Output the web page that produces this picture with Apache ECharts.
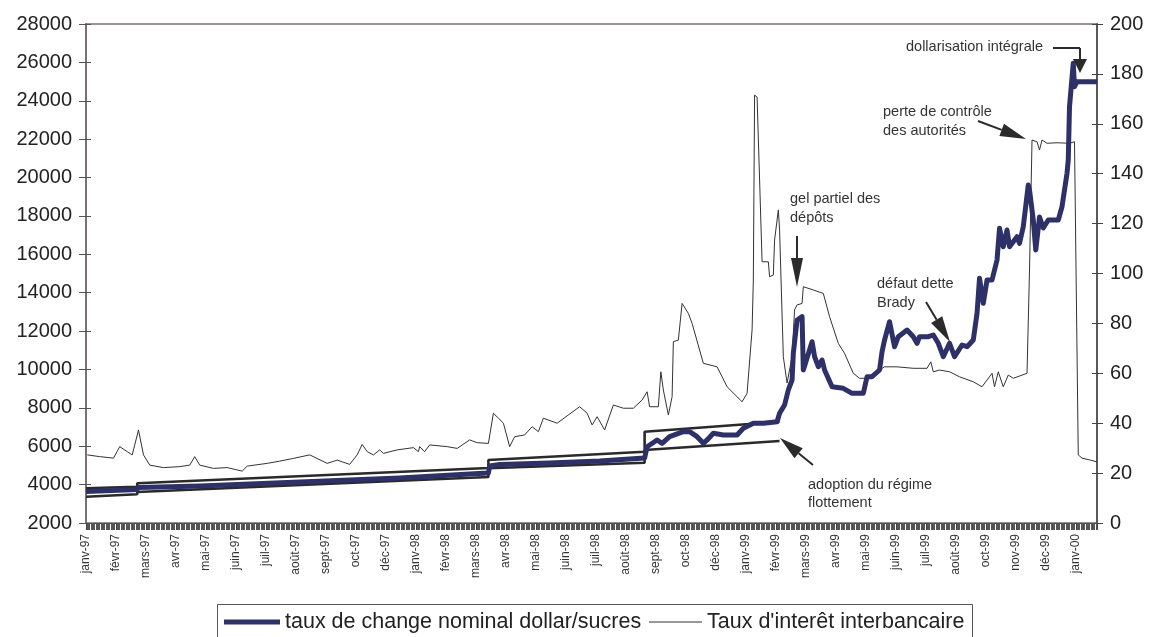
<!DOCTYPE html>
<html>
<head>
<meta charset="utf-8">
<script src="https://cdn.jsdelivr.net/npm/echarts@6/dist/echarts.min.js"></script>
<style>
html,body{margin:0;padding:0;background:#fff;}
#c{width:1150px;height:637px;}
</style>
</head>
<body>
<div id="c"></div>
<script>
// x values are business-day indices (0 = early janv-97); a tick label every 24 days
const tickLabels = ['janv-97','févr-97','mars-97','avr-97','mai-97','juin-97','juil-97','août-97','sept-97','oct-97','déc-97','janv-98','févr-98','mars-98','avr-98','mai-98','juin-98','juil-98','août-98','sept-98','oct-98','déc-98','janv-99','févr-99','mars-99','avr-99','mai-99','juin-99','juil-99','août-99','oct-99','nov-99','déc-99','janv-00'];

// taux de change nominal dollar/sucres (left axis)
const exchangeRate = [[0,3640],[41,3745],[42,3850],[91,3928],[171,4136],[251,4345],[307,4553],[322,4605],[323,4970],[331,5048],[371,5126],[411,5230],[447,5387],[449,5975],[457,6325],[461,6153],[467,6497],[478,6757],[483,6757],[489,6497],[494,6153],[497,6325],[502,6674],[510,6585],[521,6585],[526,6934],[534,7195],[542,7195],[553,7278],[555,7716],[559,8148],[562,8930],[565,9451],[566,10842],[569,12577],[573,12749],[574,9972],[575,9972],[581,11447],[583,10665],[586,10144],[589,10493],[591,9972],[597,9102],[606,9018],[613,8758],[622,8758],[625,9623],[629,9623],[635,9972],[637,10925],[639,11535],[643,12488],[647,11186],[650,11707],[657,12056],[662,11707],[665,11363],[667,11707],[674,11707],[678,11796],[682,11363],[686,10665],[691,11363],[695,10665],[701,11275],[705,11186],[710,11535],[713,12926],[715,14750],[718,13447],[721,14661],[725,14661],[729,15703],[731,17355],[734,16396],[737,17266],[739,16396],[745,16917],[747,16573],[750,17438],[754,19611],[755,19350],[758,17788],[760,16224],[763,17944],[766,17370],[770,17788],[778,17788],[781,18480],[785,20220],[786,20914],[787,23691],[790,25952],[791,24733],[793,24993],[809,24993]];

// Taux d'interêt interbancaire (right axis)
const interestRate = [[1,27.3],[11,26.6],[22,26.0],[27,30.6],[33,28.6],[37,27.3],[42,37.3],[46,27.3],[51,23.2],[62,22.2],[75,22.6],[83,23.2],[87,26.6],[91,23.2],[102,21.9],[113,22.2],[125,20.8],[129,22.8],[145,23.9],[155,24.8],[166,25.9],[179,27.3],[193,23.9],[201,25.2],[211,23.5],[217,27.3],[221,31.5],[225,28.6],[230,27.3],[235,29.3],[238,27.9],[249,29.3],[262,30.2],[266,28.6],[267,30.6],[271,28.6],[275,31.3],[289,30.6],[297,29.9],[307,33.3],[313,32.2],[322,31.9],[326,44.0],[330,42.0],[334,40.0],[339,30.6],[343,34.6],[351,35.3],[357,38.6],[362,36.6],[366,42.0],[377,40.0],[386,43.3],[395,46.6],[401,44.0],[405,39.3],[409,42.6],[415,37.3],[422,47.3],[430,46.0],[438,46.0],[445,49.3],[449,52.6],[451,46.6],[458,46.6],[460,60.6],[462,53.3],[466,43.3],[469,50.6],[470,72.7],[474,73.3],[477,88.0],[482,84.0],[485,80.0],[494,64.0],[505,62.6],[513,54.6],[521,50.6],[525,48.6],[529,52.0],[533,77.4],[534,97.4],[535,171.5],[537,170.7],[541,104.7],[542,104.2],[546,104.7],[547,98.7],[550,99.4],[551,113.4],[554,125.5],[555,117.4],[558,66.7],[561,56.1],[565,66.7],[567,85.4],[569,87.4],[573,88.0],[574,94.7],[582,93.4],[590,92.0],[595,82.7],[602,72.0],[607,68.0],[614,60.0],[619,58.0],[627,58.0],[635,61.3],[639,62.6],[649,62.6],[662,62.0],[673,62.0],[676,64.6],[678,60.6],[683,61.3],[691,60.6],[699,58.6],[710,56.6],[717,54.6],[721,57.3],[725,60.0],[727,54.6],[730,60.6],[734,54.6],[738,59.3],[742,58.0],[753,60.0],[755,101.4],[757,153.5],[761,152.8],[763,149.5],[765,153.5],[769,152.2],[777,152.4],[787,152.2],[791,152.8],[794,27.3],[797,26.0],[803,25.3],[809,24.5]];

// bande de change (crawling band), left axis
const bandUpper = [[0,3808],[41,3892],[41,4068],[322,4866],[322,5282],[447,5715],[447,6757],[555,7278]];
const bandLower = [[0,3370],[41,3495],[41,3615],[322,4397],[322,4850],[447,5142],[447,5803],[555,6272]];

const leftTicks = {min:2000, max:28000, interval:2000};
const rightTicks = {min:0, max:200, interval:20};

const FONT = '"Liberation Sans", Arial, sans-serif';
const chart = echarts.init(document.getElementById('c'));

function arrow(x1,y1,x2,y2,len,w){
  const dx=x2-x1, dy=y2-y1, d=Math.sqrt(dx*dx+dy*dy);
  const ux=dx/d, uy=dy/d, bx=x2-ux*len, by=y2-uy*len, nx=-uy, ny=ux;
  return [
    {type:'line', shape:{x1:x1,y1:y1,x2:bx,y2:by}, style:{stroke:'#2b2b2b', lineWidth:2}, z:100},
    {type:'polygon', shape:{points:[[x2,y2],[bx+nx*w/2,by+ny*w/2],[bx-nx*w/2,by-ny*w/2]]}, style:{fill:'#2b2b2b'}, z:100}
  ];
}
function txt(x,y,s){
  return {type:'text', x:x, y:y, style:{text:s, fill:'#333', font:'14.5px '+FONT, textVerticalAlign:'middle'}, z:100};
}

const graphics = [].concat(
  [txt(906,47,'dollarisation intégrale'),
   {type:'line', shape:{x1:1053,y1:48,x2:1080,y2:48}, style:{stroke:'#2b2b2b', lineWidth:2}, z:100}],
  arrow(1080,48,1080,73,14,14),
  [txt(883,112,'perte de contrôle'), txt(883,131,'des autorités')],
  arrow(978,121,1026,139,26,13),
  [txt(790,199,'gel partiel des'), txt(790,218,'dépôts')],
  arrow(797,236,797,287,29,12),
  [txt(877,284,'défaut dette'), txt(877,303,'Brady')],
  arrow(926,302,950,342,26,13),
  [txt(808,485,'adoption du régime'), txt(808,503,'flottement')],
  arrow(813,465,780,438,24,13),
  [{type:'rect', shape:{x:217.5,y:604.5,width:755,height:45}, style:{fill:'none', stroke:'#555', lineWidth:1}, z:50}]
);

chart.setOption({
  animation:false,
  backgroundColor:'#fff',
  grid:{left:86, right:53, top:24, bottom:114, show:true, borderColor:'#9a9090', borderWidth:2, backgroundColor:'transparent'},
  legend:[
    {data:['taux de change nominal dollar/sucres'], left:224, top:611, padding:0, icon:'rect', itemWidth:56, itemHeight:5,
     textStyle:{fontSize:21.5, fontFamily:FONT, color:'#222'}},
    {data:["Taux d'interêt interbancaire"], left:649, top:611, padding:0, icon:'rect', itemWidth:53, itemHeight:1,
     textStyle:{fontSize:21.5, fontFamily:FONT, color:'#222'}}
  ],
  xAxis:{
    type:'value', min:0, max:809, interval:24,
    axisLine:{show:true, onZero:false, lineStyle:{color:'#444', width:1}},
    axisTick:{show:true, length:7, lineStyle:{color:'#444'}},
    minorTick:{show:true, splitNumber:24, length:7, lineStyle:{color:'#555', width:1}},
    splitLine:{show:false},
    axisLabel:{rotate:90, margin:11, fontSize:12, fontFamily:FONT, color:'#333', showMaxLabel:false,
      formatter:function(v){ const k=v/24; return Number.isInteger(k)&&tickLabels[k]?tickLabels[k]:''; }}
  },
  yAxis:[
    {type:'value', position:'left', min:leftTicks.min, max:leftTicks.max, interval:leftTicks.interval,
     axisLine:{show:true, lineStyle:{color:'#7a7070', width:2}},
     axisTick:{show:true, length:7, lineStyle:{color:'#555'}},
     splitLine:{show:false},
     axisLabel:{fontSize:20, fontFamily:FONT, color:'#222', margin:14, formatter:function(v){return String(v);}}},
    {type:'value', position:'right', min:rightTicks.min, max:rightTicks.max, interval:rightTicks.interval,
     axisLine:{show:true, lineStyle:{color:'#444', width:1.5}},
     axisTick:{show:true, length:6, lineStyle:{color:'#444'}},
     splitLine:{show:false},
     axisLabel:{fontSize:20, fontFamily:FONT, color:'#222', margin:13, formatter:function(v){return String(v);}}},
    {type:'value', position:'left', min:leftTicks.min, max:leftTicks.max, interval:leftTicks.interval,
     axisLine:{show:false}, axisTick:{show:true, inside:true, length:5, lineStyle:{color:'#555'}},
     splitLine:{show:false}, axisLabel:{show:false}},
    {type:'value', position:'right', min:rightTicks.min, max:rightTicks.max, interval:rightTicks.interval,
     axisLine:{show:false}, axisTick:{show:true, inside:true, length:5, lineStyle:{color:'#444'}},
     splitLine:{show:false}, axisLabel:{show:false}}
  ],
  series:[
    {name:"Taux d'interêt interbancaire", type:'line', yAxisIndex:1, data:interestRate, showSymbol:false, symbol:'none',
     lineStyle:{color:'#333', width:1}, itemStyle:{color:'#333'}, z:2},
    {name:'bande haute', type:'line', yAxisIndex:0, data:bandUpper, showSymbol:false, symbol:'none',
     lineStyle:{color:'#2a2a2a', width:2.6}, itemStyle:{color:'#2a2a2a'}, z:3},
    {name:'bande basse', type:'line', yAxisIndex:0, data:bandLower, showSymbol:false, symbol:'none',
     lineStyle:{color:'#2a2a2a', width:2.6}, itemStyle:{color:'#2a2a2a'}, z:3},
    {name:'taux de change nominal dollar/sucres', type:'line', yAxisIndex:0, data:exchangeRate, showSymbol:false, symbol:'none',
     lineStyle:{color:'#2E3068', width:5, join:'round'}, itemStyle:{color:'#2E3068'}, z:4}
  ],
  graphic:graphics
});
</script>
</body>
</html>
